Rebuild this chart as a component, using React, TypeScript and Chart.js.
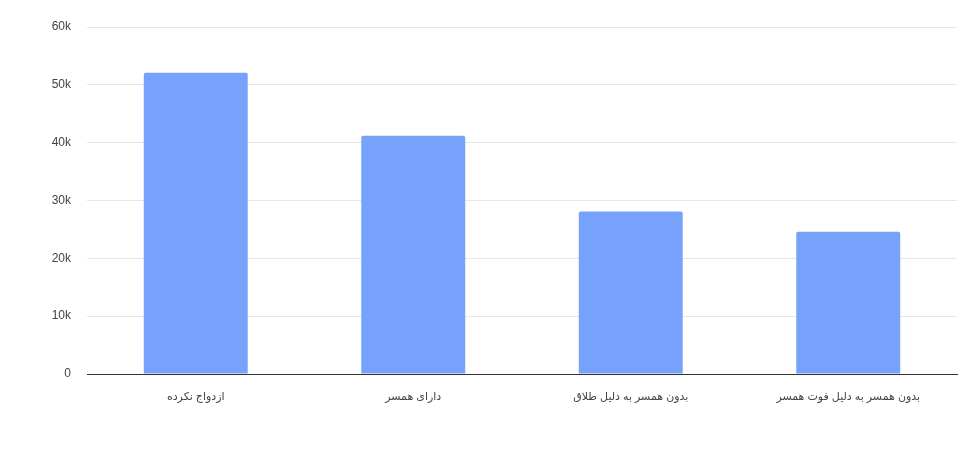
import { useEffect, useRef } from "react";
import { Chart, registerables } from "chart.js";

Chart.register(...registerables);

const categories = [
  "ازدواج نکرده",
  "دارای همسر",
  "بدون همسر به دلیل طلاق",
  "بدون همسر به دلیل فوت همسر",
];
const counts = [52100, 41200, 28100, 24600];
const yTicks = [0, 10000, 20000, 30000, 40000, 50000, 60000];

const fmtK = (v: number) => (v === 0 ? "0" : `${v / 1000}k`);

export default function App() {
  const chartRef = useRef<HTMLCanvasElement>(null);

  useEffect(() => {
    let chartInstance: Chart | null = null;
    if (chartRef.current) {
      const ctx = chartRef.current.getContext("2d");
      if (ctx) {
        chartInstance = new Chart(ctx, {
          type: "bar",
          data: {
            labels: categories,
            datasets: [
              {
                data: counts,
                backgroundColor: "#76a2fc",
                borderRadius: { topLeft: 2, topRight: 2 },
                borderSkipped: "bottom",
                categoryPercentage: 1,
                barPercentage: 0.478,
              },
            ],
          },
          options: {
            animation: false,
            responsive: false,
            maintainAspectRatio: false,
            layout: { padding: { top: 27, right: 14, left: 0, bottom: 0 } },
            plugins: {
              legend: { display: false },
              tooltip: { enabled: false },
            },
            scales: {
              x: {
                grid: { display: false, drawTicks: false },
                border: { display: true, color: "#333333", width: 1 },
                ticks: {
                  padding: 16,
                  color: "#444444",
                  font: { family: "Arial, 'DejaVu Sans', sans-serif", size: 11 },
                },
                afterFit: (s: any) => {
                  s.height = 78;
                },
              },
              y: {
                min: 0,
                max: 60000,
                afterBuildTicks: (s: any) => {
                  s.ticks = yTicks.map((v) => ({ value: v }));
                },
                grid: {
                  drawTicks: false,
                  color: (c: any) => (c.tick && c.tick.value === 0 ? "#333333" : "#e6e6e6"),
                },
                border: { display: false },
                ticks: {
                  padding: 16,
                  color: "#444444",
                  font: { family: "Arial, 'Liberation Sans', sans-serif", size: 12 },
                  callback: (v: any) => fmtK(Number(v)),
                },
                afterFit: (s: any) => {
                  s.width = 87;
                },
              },
            },
          },
        });
      }
    }
    return () => {
      if (chartInstance) chartInstance.destroy();
    };
  }, []);

  return (
    <div style={{ position: "fixed", left: 0, top: 0, width: 971, height: 452, background: "#fff" }}>
      <canvas ref={chartRef} width={971} height={452} />
    </div>
  );
}
